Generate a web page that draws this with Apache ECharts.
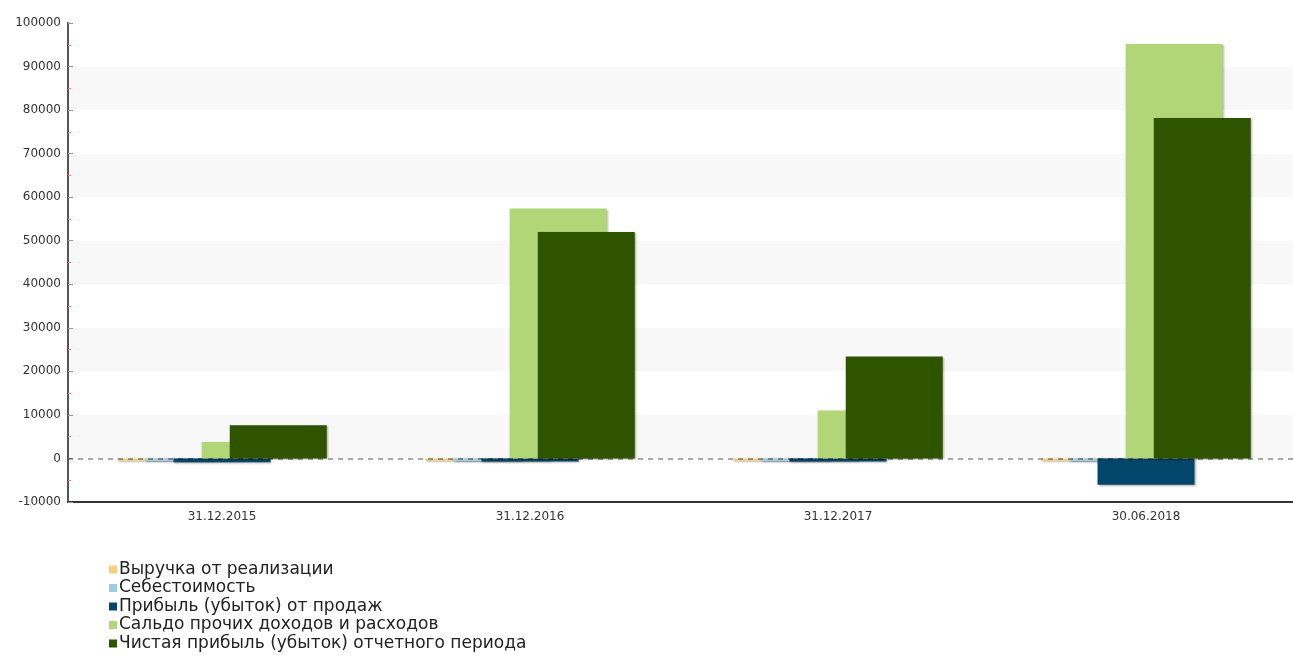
<!DOCTYPE html>
<html>
<head>
<meta charset="utf-8">
<script src="https://cdn.jsdelivr.net/npm/echarts@6/dist/echarts.min.js"></script>
<style>
  html, body { margin: 0; padding: 0; background: #fff; }
  #chart { width: 1293px; height: 666px; }
</style>
</head>
<body>
<div id="chart"></div>
<script>
// Отчётные даты
const periods = ["31.12.2015", "31.12.2016", "31.12.2017", "30.06.2018"];

// Показатели, тыс. руб.
const revenue = [-500, -500, -500, -500];
const costOfSales = [-600, -600, -600, -600];
const salesProfit = [-900, -700, -700, -6050];
const otherBalance = [3800, 57400, 11000, 95200];
const netProfit = [7600, 52000, 23400, 78200];

const seriesNames = [
  "Выручка от реализации",
  "Себестоимость",
  "Прибыль (убыток) от продаж",
  "Сальдо прочих доходов и расходов",
  "Чистая прибыль (убыток) отчетного периода",
];
const seriesData = [revenue, costOfSales, salesProfit, otherBalance, netProfit];
const seriesColors = ["#f4d27c", "#9ccbe8", "#03466b", "#b0d677", "#2e5400"];

const FONT = "DejaVu Sans";

const chart = echarts.init(document.getElementById("chart"));

const series = seriesData.map((data, i) => ({
  name: seriesNames[i],
  type: "bar",
  data: data,
  barWidth: 97,
  barGap: "-71%",
  itemStyle: {
    color: seriesColors[i],
    shadowBlur: 2,
    shadowColor: "rgba(0,0,0,0.3)",
    shadowOffsetX: 1,
    shadowOffsetY: 1,
  },
  emphasis: { disabled: true },
}));

// пунктир по нулю поверх столбцов
series[series.length - 1].markLine = {
  silent: true,
  symbol: "none",
  label: { show: false },
  lineStyle: { color: "rgba(0,0,0,0.45)", type: [5, 5], width: 1.5 },
  data: [{ yAxis: 0 }],
};

chart.setOption({
  animation: false,
  backgroundColor: "#ffffff",
  grid: { left: 68, width: 1232, top: 23, bottom: 164, outerBoundsMode: "none" },
  legend: {
    orient: "vertical",
    left: 104,
    top: 556,
    icon: "rect",
    itemWidth: 8,
    itemHeight: 8,
    itemGap: 1.5,
    textStyle: { fontFamily: FONT, fontSize: 17, color: "#222", lineHeight: 16, padding: [0, 0, 0, -3] },
    data: seriesNames,
  },
  xAxis: {
    type: "category",
    data: periods,
    axisLine: { onZero: false, lineStyle: { color: "#333", width: 2 } },
    axisTick: { alignWithLabel: true, length: 6, lineStyle: { color: "#444" } },
    axisLabel: { fontFamily: FONT, fontSize: 12, color: "#333", margin: 9 },
  },
  yAxis: {
    type: "value",
    min: -10000,
    max: 100000,
    interval: 10000,
    axisLine: { show: true, lineStyle: { color: "#555", width: 2 } },
    axisTick: { show: true, inside: true, length: 5, lineStyle: { color: "#999" } },
    minorTick: { show: true, splitNumber: 2, length: 3, lineStyle: { color: "#f08080" } },
    axisLabel: { fontFamily: FONT, fontSize: 12, color: "#333", margin: 7, formatter: (v) => String(v) },
    splitLine: { show: false },
    splitArea: { show: true, areaStyle: { color: ["#ffffff", "#f8f8f8"] } },
  },
  series: series,
});
</script>
</body>
</html>
